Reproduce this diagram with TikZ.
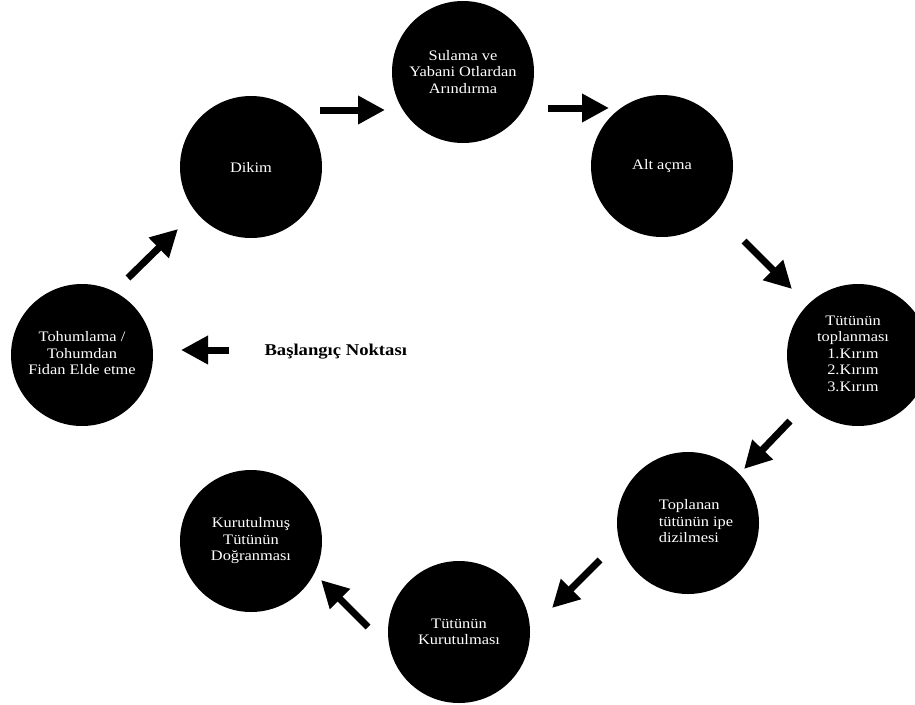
\documentclass[tikz,border=0pt]{standalone}
\usepackage{fontspec}
\setmainfont{Liberation Serif}[FakeStretch=1.13]
\usetikzlibrary{arrows.meta}
\tikzset{
  circ/.style={circle, fill=black, text=white, minimum size=142pt, inner sep=0pt,
    align=center, font=\fontsize{14.5}{16.5}\selectfont},
  arr/.style={line width=7pt, -{Triangle[length=27pt,width=27pt]}},
  starttext/.style={anchor=west, font=\fontsize{16.5}{18}\selectfont\bfseries}
}
\begin{document}
\begin{tikzpicture}[x=1pt,y=-1pt]
\useasboundingbox (0,0) rectangle (915,704);
\node[circ] (tohum) at (82,355) {\raisebox{4pt}{\begin{tabular}{@{}c@{}}Tohumlama /\\Tohumdan\\Fidan Elde etme\end{tabular}}};
\node[circ] (dikim) at (251,167) {Dikim};
\node[circ] (sulama) at (463,72) {Sulama ve\\Yabani Otlardan\\Arındırma};
\node[circ] (alt) at (662,166) {Alt açma};
\node[circ] (topl) at (858,355) {\begin{tabular}{@{}c@{}}Tütünün\\toplanması\\1.Kırım\\2.Kırım\\3.Kırım\end{tabular}\hspace*{10pt}};
\node[circ] (ipe) at (688,523) {\hspace*{16pt}\begin{tabular}{@{}l@{}}Toplanan\\tütünün ipe\\dizilmesi\end{tabular}};
\node[circ] (kurut) at (459,632) {Tütünün\\Kurutulması};
\node[circ] (dogra) at (251,541) {Kurutulmuş\\Tütünün\\Doğranması};
\node[starttext] (start) at (261,352) {Başlangıç Noktası};
% arrow end points
\coordinate (a1s) at (128,278); \coordinate (a1e) at (178,229);
\coordinate (a2s) at (320,110); \coordinate (a2e) at (385,110);
\coordinate (a3s) at (548,108); \coordinate (a3e) at (609,108);
\coordinate (a4s) at (744,241); \coordinate (a4e) at (792,289);
\coordinate (a5s) at (790,421); \coordinate (a5e) at (744,469);
\coordinate (a6s) at (600,560); \coordinate (a6e) at (552,608);
\coordinate (a7s) at (368,627); \coordinate (a7e) at (321,580);
\coordinate (a8s) at (229,350); \coordinate (a8e) at (181,350);
\draw[arr] (a1s) -- (a1e);
\draw[arr] (a2s) -- (a2e);
\draw[arr] (a3s) -- (a3e);
\draw[arr] (a4s) -- (a4e);
\draw[arr] (a5s) -- (a5e);
\draw[arr] (a6s) -- (a6e);
\draw[arr] (a7s) -- (a7e);
\draw[arr] (a8s) -- (a8e);
\end{tikzpicture}
\end{document}
